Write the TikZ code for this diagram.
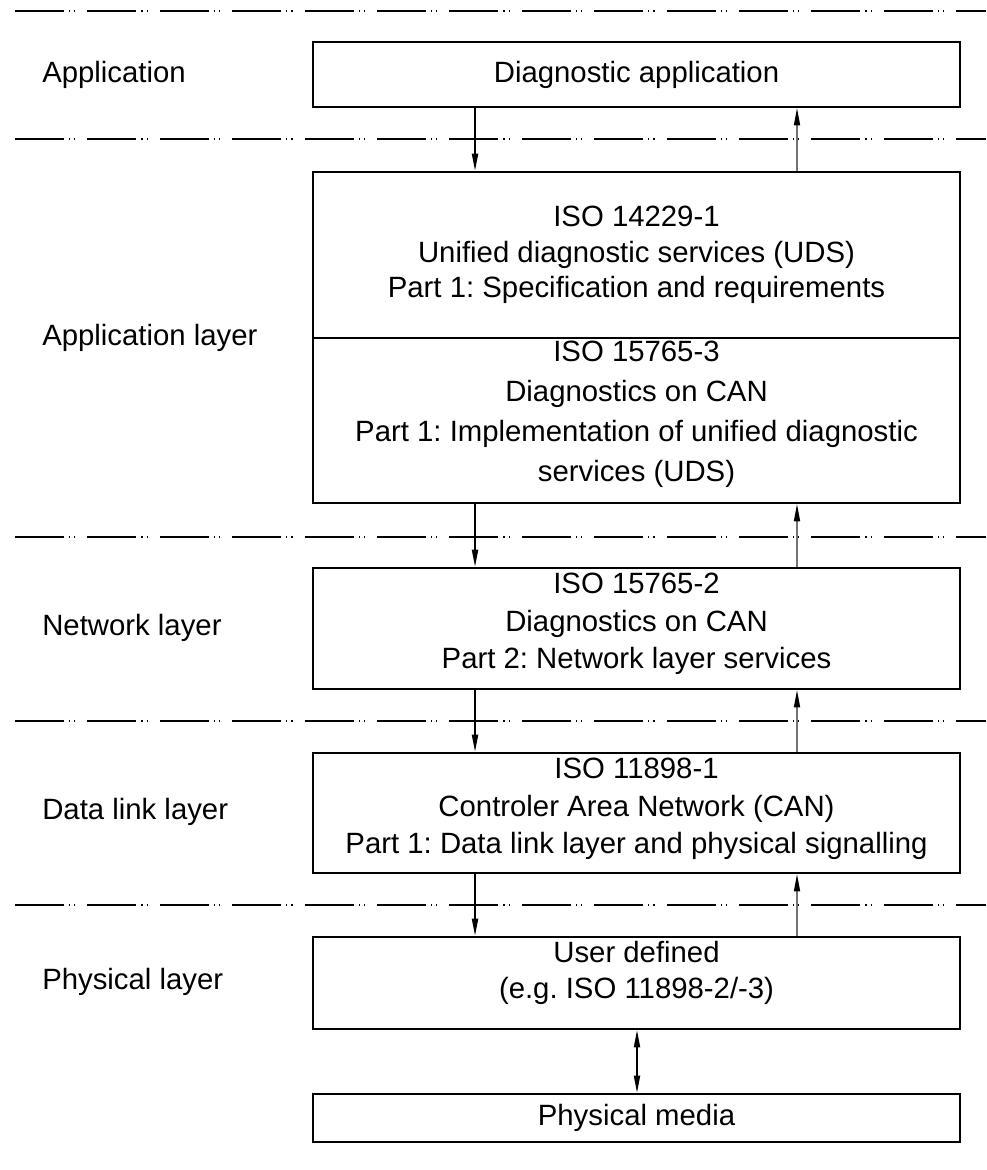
\documentclass[tikz,border=0pt]{standalone}
\usepackage{fontspec}
\setmainfont{Liberation Sans}
\frenchspacing
\usetikzlibrary{arrows.meta}
\begin{document}
\begin{tikzpicture}[x=0.75pt,y=-0.75pt,
  every node/.style={font=\fontsize{22pt}{27pt}\selectfont},
  box/.style={draw,line width=1.5pt,inner sep=0pt,minimum width=485.25pt},
  txt/.style={inner sep=0pt,align=center},
  lbl/.style={anchor=west,inner sep=0pt},
  sepline/.style={line width=1.5pt,dash pattern=on 36.75pt off 3.75pt on 0.9pt off 3pt on 0.9pt off 9pt},
  dnarrow/.style={line width=1.5pt,-{Triangle[length=13pt,width=4.5pt]}},
  uparrow/.style={line width=1.1pt,draw=black!55,-{Triangle[length=13pt,width=4.5pt,fill=black,color=black]}},
  bothways/.style={line width=1.3pt,{Triangle[length=13pt,width=4.5pt]}-{Triangle[length=13pt,width=4.5pt]}}
]
\useasboundingbox (0,0) rectangle (986,1170);

% separator lines
\foreach \yy in {11,139,537,721,905}{
  \draw[sepline] (15,\yy) -- (986,\yy);
}

% left labels
\node[lbl] (l1) at (42,75) {Application};
\node[lbl] (l2) at (42,338) {Application layer};
\node[lbl] (l3) at (42,628) {Network layer};
\node[lbl] (l4) at (42,812) {Data link layer};
\node[lbl] (l5) at (42,982) {Physical layer};

% boxes
\node[box,minimum height=48.75pt] (app) at (636.5,74.5) {};
\node[box,minimum height=124.5pt] (uds) at (636.5,255) {};
\node[box,minimum height=123.75pt] (docan) at (636.5,420.5) {};
\node[box,minimum height=90.75pt] (net) at (636.5,628.5) {};
\node[box,minimum height=90pt] (dll) at (636.5,813) {};
\node[box,minimum height=69pt] (user) at (636.5,983) {};
\node[box,minimum height=36pt] (media) at (636.5,1118) {};

% box texts
\node[txt] (appT) at (app.center) {Diagnostic application};
\node[txt,font=\fontsize{22pt}{26.5pt}\selectfont] (udsT) at (636.5,255)
  {ISO 14229-1\\Unified diagnostic services (UDS)\\Part 1: Specification and requirements};
\node[txt,font=\fontsize{22pt}{30pt}\selectfont] (docanT) at (636.5,414)
  {ISO 15765-3\\Diagnostics on CAN\\Part 1: Implementation of unified diagnostic\\services (UDS)};
\node[txt,font=\fontsize{22pt}{28pt}\selectfont] (netT) at (636.5,624)
  {ISO 15765-2\\Diagnostics on CAN\\Part 2: Network layer services};
\node[txt,font=\fontsize{22pt}{28pt}\selectfont] (dllT) at (636.5,809)
  {ISO 11898-1\\Controler Area Network (CAN)\\Part 1: Data link layer and physical signalling};
\node[txt,font=\fontsize{22pt}{26.5pt}\selectfont] (userT) at (636.5,973)
  {User defined\\(e.g. ISO 11898-2/-3)};
\node[txt] (mediaT) at (media.center) {Physical media};

% arrow columns
\coordinate (dn) at (475,0);
\coordinate (up) at (797,0);
\coordinate (mid) at (637,0);

\draw[dnarrow] (app.south -| dn) -- (uds.north -| dn);
\draw[uparrow] (uds.north -| up) -- (app.south -| up);
\draw[dnarrow] (docan.south -| dn) -- (net.north -| dn);
\draw[uparrow] (net.north -| up) -- (docan.south -| up);
\draw[dnarrow] (net.south -| dn) -- (dll.north -| dn);
\draw[uparrow] (dll.north -| up) -- (net.south -| up);
\draw[dnarrow] (dll.south -| dn) -- (user.north -| dn);
\draw[uparrow] (user.north -| up) -- (dll.south -| up);
\draw[bothways] (user.south -| mid) -- (media.north -| mid);
\end{tikzpicture}
\end{document}
